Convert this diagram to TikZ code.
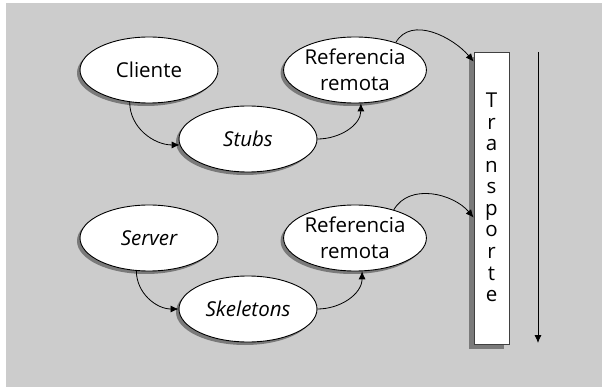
\documentclass[tikz,border=0pt]{standalone}
\usepackage{fontspec}
\setmainfont{Open Sans}
\usetikzlibrary{shapes.geometric,shadows,arrows.meta,calc}
\definecolor{panel}{HTML}{CCCCCC}
\definecolor{shade}{HTML}{7A7A7A}
\begin{document}
\begin{tikzpicture}[x=1pt,y=-1pt,
  every node/.style={font=\fontsize{20.5}{26}\selectfont},
  bubble/.style={ellipse, draw=black, line width=0.9pt, fill=white,
    minimum width=138pt, minimum height=66pt, inner sep=0pt, align=center,
    drop shadow={shadow xshift=-3pt, shadow yshift=-3pt, fill=shade, opacity=1}},
  link/.style={-{Latex[length=8pt,width=7pt]}, line width=0.8pt}
]
\useasboundingbox (0,0) rectangle (602,387);
\fill[white] (0,0) rectangle (602,387);
\fill[panel] (6,3) rectangle (602,387);

% client side
\node[bubble] (cli) at (149,70) {Cliente};
\node[bubble] (stubs) at (248,139) {\itshape Stubs};
\node[bubble] (ref1) at (355,70) {Referencia\\remota};
% server side
\node[bubble] (srv) at (149,238) {\itshape Server};
\node[bubble] (skel) at (248,309) {\itshape Skeletons};
\node[bubble] (ref2) at (355,238) {Referencia\\remota};

% transport column
\node[draw=black!75, line width=0.8pt, fill=white, minimum width=35pt,
  minimum height=292pt, inner sep=0pt,
  drop shadow={shadow xshift=-5pt, shadow yshift=-5pt, fill=shade, opacity=1}]
  (trans) at (491.5,198) {};
\foreach \ch [count=\i from 0] in {T,r,a,n,s,p,o,r,t,e}
  \node[anchor=base, inner sep=0pt] (letter\i) at (491.5,{108+21.5*\i}) {\ch};

% connectors
\draw[link] (cli.-121) to[out=-90,in=180] (stubs.185);
\draw[link] (stubs.east) to[out=0,in=-90] (ref1.-80);
\draw[link] (ref1.34) to[out=60,in=130] ($(trans.north west)+(0,10)$);
\draw[link] (srv.-111) to[out=-90,in=180] (skel.west);
\draw[link] (skel.east) to[out=0,in=-90] (ref2.-78);
\draw[link] (ref2.36) to[out=60,in=130] ($(trans.north west)+(0,166)$);

% direction of flow
\coordinate (flowtop) at (538,52);
\coordinate (flowend) at (538,343);
\draw[link] (flowtop) -- (flowend);
\end{tikzpicture}
\end{document}
